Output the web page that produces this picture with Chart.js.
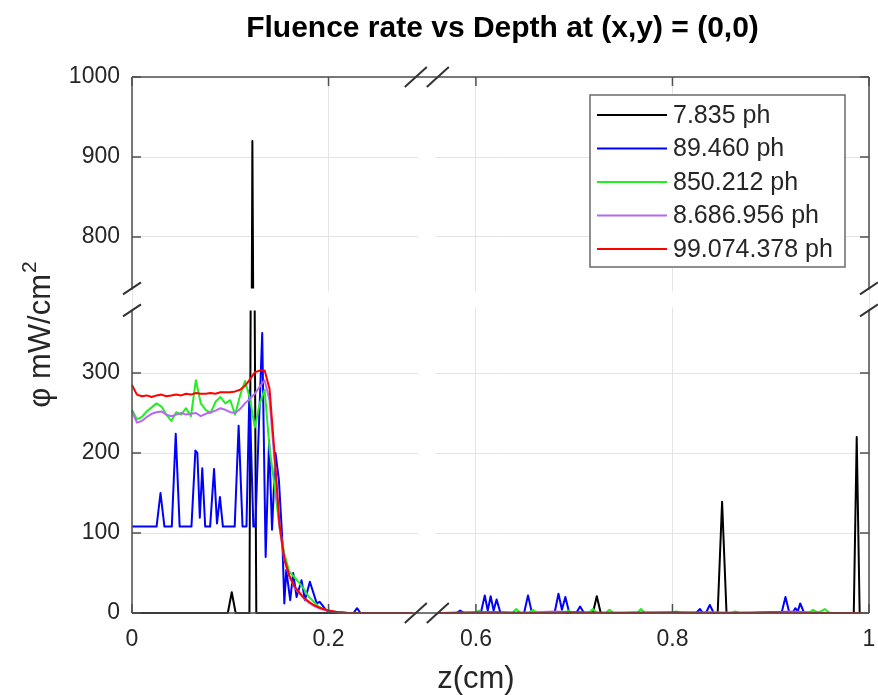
<!DOCTYPE html>
<html>
<head>
<meta charset="utf-8">
<script src="https://cdn.jsdelivr.net/npm/chart.js@4.4.1/dist/chart.umd.min.js"></script>
<style>
html,body{margin:0;padding:0;background:#ffffff;}
canvas{display:block;}
</style>
</head>
<body>
<canvas id="c" width="878" height="695"></canvas>
<script>
// ---------- text ----------
const titleText = 'Fluence rate vs Depth at (x,y) = (0,0)';
const xLabelText = 'z(cm)';
const yLabelText = 'φ mW/cm';
const yLabelSup = '2';
const seriesLabels = ['7.835 ph', '89.460 ph', '850.212 ph', '8.686.956 ph', '99.074.378 ph'];
const seriesColors = ['#000000', '#0000ff', '#22ee22', '#b469f0', '#ff0000'];

// ---------- axes (broken) ----------
const xRangeLeft = [0, 0.3];
const xRangeRight = [0.55, 1.0];
const yRangeLower = [0, 392];
const yRangeUpper = [722, 1000];
const xTicksLeft = [0, 0.2];
const xTicksRight = [0.6, 0.8, 1];
const yTicksLower = [0, 100, 200, 300];
const yTicksUpper = [800, 900, 1000];

// ---------- data ----------
// shared depth grid for the smooth series on the left segment
const gridZ = [0, 0.005, 0.01, 0.015, 0.02, 0.025, 0.03, 0.035, 0.04, 0.045,
  0.05, 0.055, 0.06, 0.065, 0.07, 0.075, 0.08, 0.085, 0.09, 0.095,
  0.1, 0.105, 0.11, 0.115, 0.12, 0.125, 0.13, 0.135, 0.14, 0.145,
  0.15, 0.155, 0.16, 0.165, 0.17, 0.175, 0.18, 0.185, 0.19, 0.195,
  0.2, 0.205, 0.21, 0.215, 0.22, 0.225, 0.23, 0.235, 0.24, 0.245,
  0.25, 0.255, 0.26, 0.265, 0.27, 0.275, 0.28, 0.285];

// 7.835 ph
const blackZ = [0, 0.0975, 0.1015, 0.1055, 0.1195, 0.1225, 0.1265, 0.29,
  0.565, 0.719, 0.723, 0.727, 0.846, 0.8505, 0.855, 0.9845, 0.9875, 0.9905];
const blackPhi = [0, 0, 26, 0, 0, 920, 0, 0,
  0, 0, 21, 0, 0, 139, 0, 0, 220, 0];

// 89.460 ph
const blueZ = [0, 0.025, 0.029, 0.033, 0.0405, 0.0445, 0.0485, 0.0605, 0.0645, 0.0665,
  0.069, 0.0715, 0.0745, 0.0795, 0.0835, 0.0865, 0.0895, 0.0925, 0.1045, 0.1085,
  0.1125, 0.1165, 0.1195, 0.1235, 0.1255, 0.1325, 0.136, 0.1395, 0.1425, 0.146,
  0.1495, 0.153, 0.155, 0.157, 0.161, 0.164, 0.1675, 0.1725, 0.176, 0.181,
  0.188, 0.191, 0.198, 0.205, 0.21, 0.2255, 0.229, 0.2325, 0.29,
  0.565, 0.580, 0.584, 0.588, 0.605, 0.609, 0.612, 0.615, 0.618, 0.621,
  0.625, 0.649, 0.653, 0.657, 0.680, 0.684, 0.6875, 0.691, 0.695, 0.702,
  0.706, 0.710, 0.824, 0.828, 0.831, 0.834, 0.838, 0.842, 0.911, 0.915,
  0.919, 0.922, 0.925, 0.9275, 0.930, 0.934, 0.99];
const bluePhi = [108, 108, 150, 108, 108, 224, 108, 108, 203, 200,
  119, 181, 108, 108, 180, 112, 145, 108, 108, 234,
  108, 108, 278, 108, 108, 350, 70, 216, 104, 200,
  166, 91, 12, 54, 16, 50, 20, 41, 16, 39,
  12, 14, 3, 1, 0, 0, 6, 0, 0,
  0, 0, 3, 0, 0, 22, 3, 21, 3, 17,
  0, 0, 22, 0, 0, 24, 4, 20, 0, 0,
  8, 0, 0, 5, 0, 0, 10, 0, 0, 20,
  0, 0, 6, 2, 12, 0, 0];

// 850.212 ph
const greenLeftPhi = [254, 242, 245, 252, 257, 262, 258, 248, 240, 251,
  248, 256, 246, 291, 262, 254, 250, 264, 270, 262,
  266, 248, 272, 290, 268, 232, 262, 279, 205, 160,
  108, 74, 52, 45, 38, 30, 20, 14, 8, 5,
  3, 2, 1, 0, 0, 0, 0, 0, 0, 0,
  0, 0, 0, 0, 0, 0, 0, 0];
const greenRightZ = [0.565, 0.60, 0.603, 0.606, 0.637, 0.641, 0.645, 0.654, 0.658, 0.662,
  0.690, 0.694, 0.698, 0.715, 0.719, 0.723, 0.732, 0.736, 0.740, 0.764,
  0.768, 0.772, 0.80, 0.804, 0.808, 0.86, 0.864, 0.868, 0.939, 0.943,
  0.947, 0.951, 0.955, 0.959, 0.962, 0.9925];
const greenRightPhi = [0, 0, 3, 0, 0, 5, 0, 0, 4, 0,
  0, 3, 0, 0, 5, 0, 0, 4, 0, 0,
  5, 0, 0, 2, 0, 0, 2, 0, 0, 4,
  1, 2, 5, 1, 0, 0];

// 8.686.956 ph
const purpleLeftPhi = [252, 238, 240, 245, 249, 251, 252, 248, 246, 248,
  250, 248, 249, 250, 246, 249, 251, 253, 256, 254,
  251, 250, 255, 262, 268, 274, 283, 291, 266, 192,
  108, 66, 46, 33, 25, 18, 13, 9, 6, 4,
  3, 2, 1, 0, 0, 0, 0, 0, 0, 0,
  0, 0, 0, 0, 0, 0, 0, 0];
const purpleRightZ = [0.565, 0.60, 0.64, 0.68, 0.72, 0.76, 0.80, 0.84, 0.88, 0.92, 0.96, 0.9925];
const purpleRightPhi = [0, 1, 0, 2, 0, 1, 0, 1, 0, 2, 0, 0];

// 99.074.378 ph
const redLeftPhi = [285, 273, 271, 272, 270, 272, 273, 271, 272, 273,
  272, 274, 273, 275, 274, 274, 275, 274, 276, 276,
  276, 277, 279, 284, 292, 301, 303, 303, 280, 200,
  112, 68, 47, 34, 26, 19, 14, 10, 7, 5,
  3, 2, 1, 1, 0, 0, 0, 0, 0, 0,
  0, 0, 0, 0, 0, 0, 0, 0];
const redRightZ = [0.565, 0.62, 0.66, 0.70, 0.75, 0.80, 0.85, 0.90, 0.95, 0.9925];
const redRightPhi = [0, 1, 0, 1, 0, 1, 0, 1, 0, 0];

// ---------- build ----------
function pts(zs, vs) { return zs.map((z, i) => ({x: z, y: vs[i]})); }
const seriesData = [
  pts(blackZ, blackPhi),
  pts(blueZ, bluePhi),
  pts(gridZ.concat(greenRightZ), greenLeftPhi.concat(greenRightPhi)),
  pts(gridZ.concat(purpleRightZ), purpleLeftPhi.concat(purpleRightPhi)),
  pts(gridZ.concat(redRightZ), redLeftPhi.concat(redRightPhi))
];

const FONT = '"Liberation Sans", Arial, Helvetica, sans-serif';
const datasets = [];
['xL', 'xR'].forEach(xid => {
  ['yL', 'yU'].forEach(yid => {
    seriesData.forEach((d, s) => {
      datasets.push({
        label: seriesLabels[s],
        data: d,
        xAxisID: xid,
        yAxisID: yid,
        borderColor: seriesColors[s],
        backgroundColor: seriesColors[s],
        borderWidth: 2,
        borderJoinStyle: 'round',
        pointRadius: 0,
        fill: false,
        tension: 0,
        clip: 4,
        order: 4 - s
      });
    });
  });
});

function xfmt(v) { return String(Math.round(v * 10) / 10); }

const GRID = '#e4e4e4';
const AXIS = '#505050';
const TXT = '#262626';

function xScale(range, ticks, weight) {
  return {
    type: 'linear', position: 'bottom', stack: 'xs', stackWeight: range[1] - range[0], weight: weight,
    min: range[0], max: range[1],
    grid: {color: GRID, lineWidth: 1, drawTicks: false},
    border: {display: false},
    ticks: {font: {family: FONT, size: 23}, color: TXT, padding: 13, autoSkip: false, maxRotation: 0, callback: xfmt},
    afterBuildTicks: s => { s.ticks = ticks.map(v => ({value: v})); },
    afterFit: s => { s.height = 82; s.paddingLeft = 0; s.paddingRight = 0; }
  };
}
function yScale(range, ticks, weight) {
  return {
    type: 'linear', position: 'left', stack: 'ys', stackWeight: range[1] - range[0], weight: weight,
    min: range[0], max: range[1],
    grid: {color: GRID, lineWidth: 1, drawTicks: false},
    border: {display: false},
    ticks: {font: {family: FONT, size: 23}, color: TXT, padding: 12, autoSkip: false, callback: v => String(v)},
    afterBuildTicks: s => { s.ticks = ticks.map(v => ({value: v})); },
    afterFit: s => { s.width = 132; s.paddingTop = 0; s.paddingBottom = 0; }
  };
}

const brokenAxes = {
  id: 'brokenAxes',
  beforeDatasetsDraw(chart) {
    const ctx = chart.ctx, ca = chart.chartArea;
    const bx = chart.scales.xL.right, by = chart.scales.yL.top;
    ctx.save();
    ctx.fillStyle = '#ffffff';
    ctx.fillRect(bx - 9, ca.top + 1, 18, ca.bottom - ca.top - 2);
    ctx.fillRect(ca.left + 1, by - 8, ca.right - ca.left - 2, 16);
    ctx.restore();
  },
  beforeDatasetDraw(chart, args) {
    const ctx = chart.ctx, ca = chart.chartArea, meta = args.meta;
    const bx = chart.scales.xL.right, by = chart.scales.yL.top;
    let l, r, t, b;
    if (meta.xAxisID === 'xL') { l = ca.left - 4; r = bx - 14; } else { l = bx + 13; r = ca.right + 4; }
    if (meta.yAxisID === 'yL') { t = by + 11; b = ca.bottom + 4; } else { t = ca.top - 4; b = by - 11; }
    ctx.save();
    ctx.beginPath();
    ctx.rect(l, t, r - l, b - t);
    ctx.clip();
  },
  afterDatasetDraw(chart) { chart.ctx.restore(); },
  afterDatasetsDraw(chart) {
    const ctx = chart.ctx, ca = chart.chartArea;
    const bx = chart.scales.xL.right, by = chart.scales.yL.top;
    ctx.save();
    ctx.strokeStyle = AXIS;
    ctx.lineWidth = 1.5;
    ctx.lineCap = 'butt';
    ctx.beginPath();
    // top and bottom
    ctx.moveTo(ca.left, ca.top); ctx.lineTo(ca.right, ca.top);
    ctx.moveTo(ca.left, ca.bottom); ctx.lineTo(ca.right, ca.bottom);
    // left and right, broken
    [ca.left, ca.right].forEach(x => {
      ctx.moveTo(x, ca.top); ctx.lineTo(x, by - 10);
      ctx.moveTo(x, by + 10); ctx.lineTo(x, ca.bottom);
    });
    ctx.stroke();
    // inward tick marks
    const TL = 9;
    ctx.beginPath();
    ['xL', 'xR'].forEach(id => {
      const sc = chart.scales[id];
      sc.ticks.forEach(t => {
        const p = sc.getPixelForValue(t.value);
        ctx.moveTo(p, ca.bottom); ctx.lineTo(p, ca.bottom - TL);
        ctx.moveTo(p, ca.top); ctx.lineTo(p, ca.top + TL);
      });
    });
    ['yL', 'yU'].forEach(id => {
      const sc = chart.scales[id];
      sc.ticks.forEach(t => {
        const p = sc.getPixelForValue(t.value);
        ctx.moveTo(ca.left, p); ctx.lineTo(ca.left + TL, p);
        ctx.moveTo(ca.right, p); ctx.lineTo(ca.right - TL, p);
      });
    });
    ctx.stroke();
    // break slashes
    ctx.strokeStyle = '#333333';
    ctx.lineWidth = 2;
    ctx.beginPath();
    [bx - 11, bx + 11].forEach(xc => {
      [ca.top, ca.bottom].forEach(yc => {
        ctx.moveTo(xc - 11, yc + 10); ctx.lineTo(xc + 11, yc - 10);
      });
    });
    [by - 11, by + 11].forEach(yc => {
      [ca.left, ca.right].forEach(xc => {
        ctx.moveTo(xc - 9, yc + 6); ctx.lineTo(xc + 9, yc - 6);
      });
    });
    ctx.stroke();
    ctx.restore();
  },
  afterDraw(chart) {
    const ctx = chart.ctx, ca = chart.chartArea;
    ctx.save();
    // title
    ctx.fillStyle = '#000000';
    ctx.font = 'bold 30px ' + FONT;
    ctx.textAlign = 'center';
    ctx.textBaseline = 'alphabetic';
    ctx.fillText(titleText, (ca.left + ca.right) / 2 + 2, 37);
    // x label
    ctx.fillStyle = TXT;
    ctx.font = '31px ' + FONT;
    ctx.textBaseline = 'middle';
    ctx.fillText(xLabelText, chart.scales.xR.getPixelForValue(0.6), 679);
    // y label (rotated, with superscript)
    ctx.translate(50, 335);
    ctx.rotate(-Math.PI / 2);
    ctx.textBaseline = 'alphabetic';
    ctx.textAlign = 'left';
    ctx.font = '31px ' + FONT;
    const w1 = ctx.measureText(yLabelText).width;
    ctx.font = '21px ' + FONT;
    const w2 = ctx.measureText(yLabelSup).width;
    const x0 = -(w1 + w2) / 2;
    ctx.font = '31px ' + FONT;
    ctx.fillText(yLabelText, x0, 0);
    ctx.font = '21px ' + FONT;
    ctx.fillText(yLabelSup, x0 + w1 + 1, -14);
    ctx.setTransform(1, 0, 0, 1, 0, 0);
    // legend
    const lw = 255, lh = 172;
    const lx = ca.right - 24 - lw, ly = ca.top + 18;
    ctx.fillStyle = '#ffffff';
    ctx.fillRect(lx, ly, lw, lh);
    ctx.strokeStyle = '#6a6a6a';
    ctx.lineWidth = 1.5;
    ctx.strokeRect(lx, ly, lw, lh);
    ctx.font = '25px ' + FONT;
    ctx.textAlign = 'left';
    ctx.textBaseline = 'middle';
    seriesLabels.forEach((lab, i) => {
      const yy = ly + 20 + i * 33.5;
      ctx.strokeStyle = seriesColors[i];
      ctx.lineWidth = 2;
      ctx.beginPath();
      ctx.moveTo(lx + 7, yy); ctx.lineTo(lx + 77, yy);
      ctx.stroke();
      ctx.fillStyle = TXT;
      ctx.fillText(lab, lx + 83, yy + 1);
    });
    ctx.restore();
  }
};

new Chart(document.getElementById('c'), {
  type: 'line',
  data: {datasets: datasets},
  options: {
    responsive: false,
    animation: false,
    events: [],
    devicePixelRatio: 1,
    layout: {padding: {top: 77, right: 9, left: 0, bottom: 0}},
    plugins: {legend: {display: false}, title: {display: false}, tooltip: {enabled: false}},
    scales: {
      xL: xScale(xRangeLeft, xTicksLeft, 1),
      xR: xScale(xRangeRight, xTicksRight, 2),
      yL: yScale(yRangeLower, yTicksLower, 1),
      yU: yScale(yRangeUpper, yTicksUpper, 2)
    }
  },
  plugins: [brokenAxes]
});
</script>
</body>
</html>
